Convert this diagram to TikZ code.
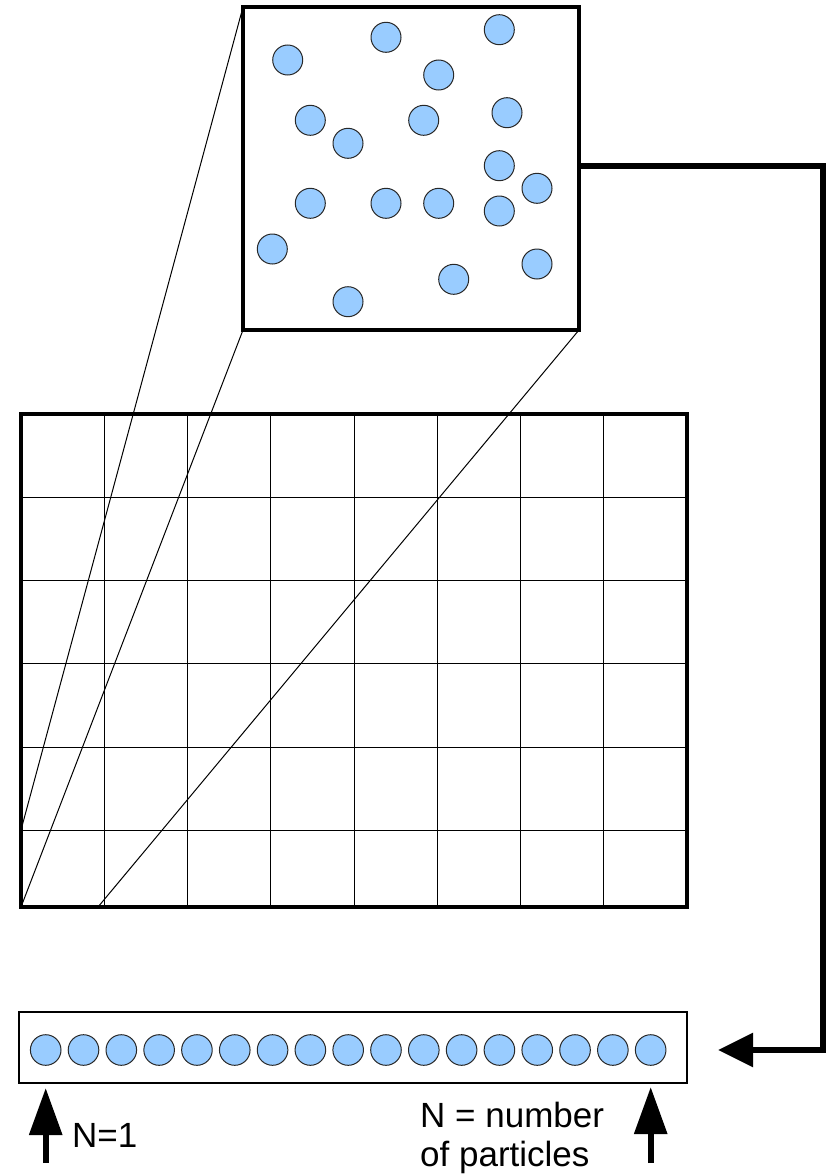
\documentclass[tikz,border=0pt]{standalone}
\usepackage{fontspec}
\setmainfont{Liberation Sans}
\usetikzlibrary{arrows.meta}
\definecolor{pfill}{RGB}{153,204,255}
\definecolor{pline}{RGB}{40,40,40}
\begin{document}
\begin{tikzpicture}[x=1pt,y=-1pt,
  particle/.style={circle,draw=pline,fill=pfill,line width=1pt,minimum size=30pt,inner sep=0pt},
  frame/.style={draw,inner sep=0pt,outer sep=0pt,anchor=north west},
  gridline/.style={line width=1pt},
  zoomline/.style={line width=1pt},
  conn/.style={line width=5.5pt,line join=miter,-{Triangle[length=35pt,width=33pt]}},
  uparrow/.style={line width=6pt,-{Triangle[length=47pt,width=32pt]}},
  lbl/.style={inner sep=0pt,anchor=base west}]
\useasboundingbox (0,0) rectangle (831,1175);
% grid
\foreach \i in {1,...,7} \draw[gridline] ({21+\i*83.25},414) -- ({21+\i*83.25},907);
\foreach \j in {1,...,5} \draw[gridline] (21,{414+\j*83.25}) -- (687,{414+\j*83.25});
\node[frame,line width=4pt,minimum width=666pt,minimum height=493pt] (grid) at (21,414) {};
% zoom box
\node[frame,line width=3.5pt,minimum width=336pt,minimum height=323pt] (zoom) at (243,7) {};
\coordinate (ga) at (21,830);
\coordinate (gb) at (21,907);
\coordinate (gc) at (98,907);
\draw[zoomline] (zoom.north west) -- (ga);
\draw[zoomline] (zoom.south west) -- (gb);
\draw[zoomline] (zoom.south east) -- (gc);
% particles in zoom box
\foreach \px/\py [count=\n] in {287.7/60, 386/37.3, 499.3/29.7, 438.7/75, 310.3/120.3, 423.7/120.3, 507/112.7, 348/143.3, 499.3/165.7, 537/188.3, 310.3/203.3, 386/203.3, 438.7/203.3, 499.3/211, 272.3/249, 537/264, 453.7/279.3, 348/301.7}
  \node[particle] (p\n) at (\px,\py) {};
% bar
\node[frame,line width=2.2pt,minimum width=668pt,minimum height=71pt] (bar) at (19,1012) {};
\foreach \k in {0,...,16} \node[particle,minimum size=30.6pt] (b\k) at ({45.7+\k*37.81},1050) {};
% connector
\coordinate (r0) at (579,166);
\coordinate (r1) at (823,166);
\coordinate (r2) at (823,1050);
\coordinate (tip) at (718,1050);
\draw[conn] (r0) -- (r1) -- (r2) -- (tip);
% up arrows
\coordinate (la0) at (45.7,1163);
\coordinate (la1) at (45.7,1088);
\coordinate (ra0) at (650.7,1163);
\coordinate (ra1) at (650.7,1087);
\draw[uparrow] (la0) -- (la1);
\draw[uparrow] (ra0) -- (ra1);
% labels
\node[lbl,font=\fontsize{35}{35}\selectfont] (n1) at (72,1147) {N=1};
\node[lbl,align=left,font=\fontsize{35}{39}\selectfont] (nn) at (420,1166) {N = number\\of particles};
\end{tikzpicture}
\end{document}
